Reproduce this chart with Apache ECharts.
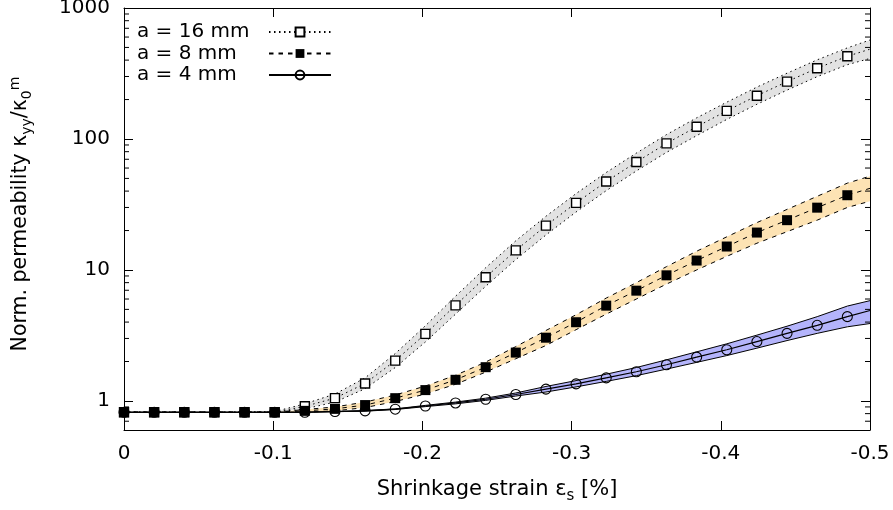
<!DOCTYPE html>
<html><head><meta charset="utf-8">
<script src="https://cdn.jsdelivr.net/npm/echarts@6/dist/echarts.min.js"></script>
<style>html,body{margin:0;padding:0;background:#fff}#c{width:893px;height:510px}</style>
</head><body><div id="c"></div>
<script>
// ---- data ----
const strain = [0, -0.0202, -0.0404, -0.0606, -0.0808, -0.101, -0.1212, -0.1414, -0.1616, -0.1818, -0.202, -0.2222, -0.2424, -0.2626, -0.2828, -0.303, -0.3232, -0.3434, -0.3636, -0.3838, -0.404, -0.4242, -0.4444, -0.4646, -0.4848];
const curveEnd = -0.5;
const seriesNames = ['a = 16 mm', 'a = 8 mm', 'a = 4 mm'];
// marker values
const m16 = [0.82,0.82,0.82,0.82,0.82,0.82,0.91,1.05,1.36,2.03,3.25,5.37,8.8,14.1,21.8,32.5,47.3,66.7,92.5,124,164,214,274,347,428];
const m8  = [0.82,0.82,0.82,0.82,0.82,0.82,0.84,0.87,0.93,1.05,1.21,1.45,1.81,2.34,3.04,3.99,5.34,6.95,9.1,11.8,15.1,19.3,24.0,29.9,37.2];
const m4  = [0.82,0.82,0.82,0.82,0.82,0.82,0.82,0.83,0.84,0.865,0.915,0.965,1.03,1.12,1.23,1.35,1.5,1.67,1.89,2.16,2.46,2.84,3.28,3.78,4.4];
// centre-curve value at strain -0.5
const end16 = 485, end8 = 42, end4 = 4.9;
// band limits (at strain points + -0.5)
const hi16 = [0.82,0.82,0.82,0.82,0.82,0.83,0.95,1.13,1.5,2.3,3.75,6.3,10.4,16.7,25.7,38.3,55.5,78,108,145,191,249,318,402,496,570];
const lo16 = [0.82,0.82,0.82,0.82,0.82,0.82,0.87,0.98,1.24,1.8,2.82,4.6,7.5,12,18.5,27.7,40.3,57,79,106,141,184,236,299,369,412];
const hi8  = [0.82,0.82,0.82,0.82,0.82,0.82,0.86,0.9,0.98,1.11,1.3,1.57,1.98,2.6,3.45,4.55,6.1,8.0,10.6,13.9,17.9,23.0,29.0,36.5,46.0,52];
const lo8  = [0.82,0.82,0.82,0.82,0.82,0.82,0.82,0.84,0.89,0.99,1.13,1.34,1.66,2.1,2.65,3.5,4.6,6.0,7.8,10.0,12.7,16.0,19.6,24.0,30.0,33.5];
const hi4  = [0.82,0.82,0.82,0.82,0.82,0.82,0.82,0.83,0.845,0.87,0.925,0.98,1.05,1.15,1.29,1.43,1.6,1.8,2.06,2.37,2.73,3.18,3.72,4.4,5.3,5.83];
const lo4  = [0.82,0.82,0.82,0.82,0.82,0.82,0.82,0.83,0.835,0.86,0.905,0.95,1.01,1.09,1.17,1.28,1.41,1.56,1.75,1.97,2.22,2.53,2.89,3.28,3.68,3.9];
const yTickLabels = ['1', '10', '100', '1000'];
const minorTickValues = [0.7,0.8,0.9,2,3,4,5,6,7,8,9,20,30,40,50,60,70,80,90,200,300,400,500,600,700,800,900];

// ---- chart ----
const FONT = 'DejaVu Sans';
const curveX = strain.concat([curveEnd]);
function centre(vals, end) {
  return strain.map((x, i) => [x, vals[i]]).concat([{ value: [curveEnd, end], symbol: 'none' }]);
}
function edge(vals) { return curveX.map((x, i) => [x, vals[i]]); }
function band(hi, lo) {
  const d = [];
  for (let i = 0; i < curveX.length - 1; i++) d.push([curveX[i], hi[i], lo[i], curveX[i + 1], hi[i + 1], lo[i + 1]]);
  return d;
}
function bandSeries(hi, lo, color) {
  return {
    type: 'custom', silent: true, z: 1, data: band(hi, lo),
    encode: { x: [0, 3], y: [1, 2, 4, 5] },
    renderItem: (p, api) => {
      const a = api.coord([api.value(0), api.value(1)]);
      const b = api.coord([api.value(3), api.value(4)]);
      const c = api.coord([api.value(3), api.value(5)]);
      const d = api.coord([api.value(0), api.value(2)]);
      return { type: 'polygon', shape: { points: [a, b, c, d] }, style: { fill: color } };
    }
  };
}
function edgeSeries(vals, type) {
  return { type: 'line', silent: true, z: 2, data: edge(vals), showSymbol: false, symbol: 'none',
    lineStyle: { color: '#000', width: 1, type: type } };
}
const dotted = [1.5, 3.5];
const dashed = [4.5, 5];

const axisLine = { show: true, onZero: false, lineStyle: { color: '#000', width: 1 } };
const tickStyle = { inside: true, length: 9, lineStyle: { color: '#000', width: 1 } };
const labelFont = { color: '#000', fontFamily: FONT, fontSize: 20 };
function richFor(size) {
  const s = Math.round(size * 0.7);
  return {
    sub: { fontFamily: FONT, fontSize: s, color: '#000', padding: [Math.round(size * 0.6), 0, 0, 0] },
    sup: { fontFamily: FONT, fontSize: s, color: '#000', padding: [0, 0, Math.round(size * 0.6), 0] }
  };
}

const option = {
  animation: false,
  backgroundColor: '#fff',
  grid: { left: 124, right: 23, top: 8, bottom: 80, outerBoundsMode: 'none', containLabel: false },
  legend: {
    data: seriesNames, orient: 'vertical', left: 137, top: 22, align: 'right', padding: 0,
    itemWidth: 62, itemHeight: 11, itemGap: 1.5, selectedMode: false,
    formatter: n => '{t|' + n + '}',
    textStyle: { color: '#000', fontFamily: FONT, fontSize: 20,
      rich: { t: { width: 127, align: 'left', fontFamily: FONT, fontSize: 20, color: '#000' } } }
  },
  xAxis: [
    { type: 'value', min: -0.5, max: 0, interval: 0.1, inverse: true, position: 'bottom',
      axisLine, axisTick: tickStyle, splitLine: { show: false },
      axisLabel: Object.assign({ margin: 14, formatter: v => (Math.abs(v) < 1e-9 ? '0' : v.toFixed(1)) }, labelFont),
      name: 'Shrinkage strain ε{sub|s} [%]', nameLocation: 'middle', nameGap: 46, nameMoveOverlap: false,
      nameTextStyle: { color: '#000', fontFamily: FONT, fontSize: 21, rich: richFor(21) } },
    { type: 'value', min: -0.5, max: 0, interval: 0.1, inverse: true, position: 'top',
      axisLine, axisTick: tickStyle, splitLine: { show: false }, axisLabel: { show: false } }
  ],
  yAxis: [
    { type: 'log', logBase: 10, min: 0.6, max: 1000, position: 'left',
      axisLine, axisTick: tickStyle, splitLine: { show: false }, minorTick: { show: false },
      axisLabel: Object.assign({ margin: 14, showMinLabel: false,
        formatter: v => { const s = String(Math.round(v)); return (Math.abs(v - Math.round(v)) < 1e-6 && yTickLabels.indexOf(s) >= 0) ? s : ''; } }, labelFont),
      name: 'Norm. permeability κ{sub|yy}/κ{sub|0}{sup|m}', nameLocation: 'middle', nameGap: 90, nameMoveOverlap: false,
      nameTextStyle: { color: '#000', fontFamily: FONT, fontSize: 20.5, padding: [0, 0, 0, 10], rich: richFor(20.5) } },
    { type: 'log', logBase: 10, min: 0.6, max: 1000, position: 'right',
      axisLine, axisTick: tickStyle, splitLine: { show: false }, axisLabel: { show: false } }
  ],
  series: [
    bandSeries(hi16, lo16, '#e2e2e2'),
    bandSeries(hi8, lo8, '#fde3b4'),
    bandSeries(hi4, lo4, '#b4b4fb'),
    edgeSeries(hi16, dotted), edgeSeries(lo16, dotted),
    edgeSeries(hi8, dashed), edgeSeries(lo8, dashed),
    edgeSeries(hi4, 'solid'), edgeSeries(lo4, 'solid'),
    { name: seriesNames[0], type: 'line', z: 3, data: centre(m16, end16), symbol: 'rect', symbolSize: 9,
      lineStyle: { color: '#000', width: 1, type: dotted },
      itemStyle: { color: '#fff', borderColor: '#000', borderWidth: 1.4 } },
    { name: seriesNames[1], type: 'line', z: 3, data: centre(m8, end8), symbol: 'rect', symbolSize: 10,
      lineStyle: { color: '#000', width: 1, type: dashed },
      itemStyle: { color: '#000', borderColor: '#000', borderWidth: 0 } },
    { name: seriesNames[2], type: 'line', z: 3, data: centre(m4, end4), symbol: 'circle', symbolSize: 10,
      lineStyle: { color: '#000', width: 1.2, type: 'solid' },
      itemStyle: { color: 'rgba(255,255,255,0)', borderColor: '#000', borderWidth: 1.1 } },
    { type: 'custom', silent: true, z: 4, data: minorTickValues.map(v => [0, v]),
      encode: { x: 0, y: 1 },
      renderItem: (p, api) => {
        const l = api.coord([0, api.value(1)]);
        const r = api.coord([curveEnd, api.value(1)]);
        return { type: 'group', children: [
          { type: 'line', shape: { x1: l[0], y1: l[1], x2: l[0] + 5, y2: l[1] }, style: { stroke: '#000', lineWidth: 1 } },
          { type: 'line', shape: { x1: r[0], y1: r[1], x2: r[0] - 5, y2: r[1] }, style: { stroke: '#000', lineWidth: 1 } }
        ] };
      } }
  ]
};
const chart = echarts.init(document.getElementById('c'));
chart.setOption(option);
</script></body></html>
